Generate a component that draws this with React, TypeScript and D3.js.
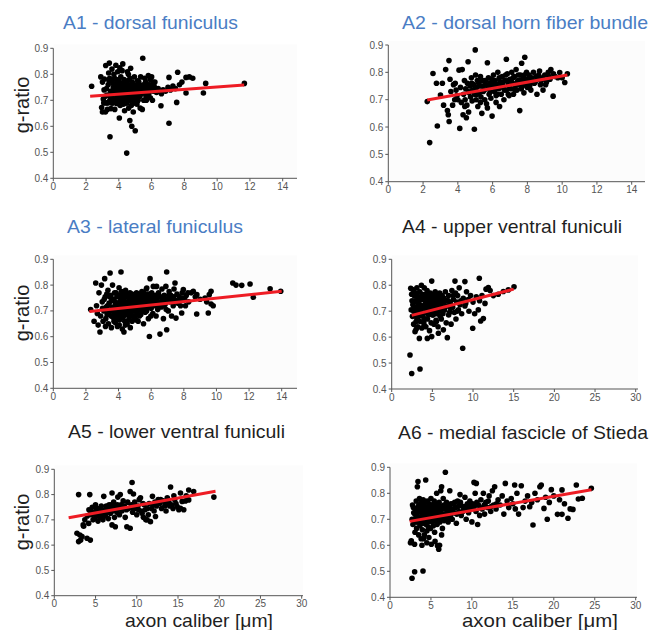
import React from 'react';
import * as d3 from 'd3';

// tick labels
const yTicks = [0.4, 0.5, 0.6, 0.7, 0.8, 0.9];
const xTicksShort = [0, 2, 4, 6, 8, 10, 12, 14];
const xTicksLong = [0, 5, 10, 15, 20, 25, 30];

// axon caliber [µm], g-ratio
const a1Points = [
  [2.34,0.754],[2.9,0.79],[2.95,0.672],[3.0,0.655],[3.05,0.705],[3.1,0.74],[3.12,0.782],[3.2,0.834],[3.22,0.69],[3.28,0.72],
  [3.3,0.665],[3.35,0.76],[3.38,0.805],[3.42,0.843],[3.46,0.56],[3.45,0.7],[3.5,0.735],[3.52,0.668],[3.55,0.775],[3.6,0.71],
  [3.62,0.69],[3.66,0.748],[3.7,0.8],[3.72,0.725],[3.75,0.665],[3.78,0.76],[3.8,0.705],[3.83,0.74],[3.86,0.688],[3.88,0.775],
  [3.9,0.72],[3.93,0.81],[3.95,0.755],[3.97,0.695],[4.0,0.735],[4.02,0.77],[4.03,0.632],[4.05,0.71],[4.08,0.68],[4.1,0.75],
  [4.12,0.79],[4.15,0.725],[4.18,0.7],[4.2,0.814],[4.22,0.765],[4.24,0.84],[4.25,0.74],[4.28,0.685],[4.3,0.72],[4.32,0.78],
  [4.35,0.66],[4.38,0.755],[4.4,0.705],[4.42,0.73],[4.45,0.77],[4.48,0.497],[4.5,0.69],[4.52,0.745],[4.55,0.715],[4.58,0.8],
  [4.6,0.67],[4.62,0.76],[4.65,0.735],[4.67,0.622],[4.7,0.7],[4.72,0.823],[4.74,0.75],[4.76,0.68],[4.79,0.6],[4.8,0.725],
  [4.82,0.77],[4.85,0.71],[4.88,0.655],[4.9,0.745],[4.92,0.69],[4.95,0.79],[4.98,0.73],[5.0,0.583],[5.02,0.705],[5.05,0.76],
  [5.08,0.72],[5.1,0.685],[5.13,0.745],[5.15,0.775],[5.18,0.7],[5.2,0.735],[5.25,0.755],[5.28,0.715],[5.3,0.67],[5.33,0.79],
  [5.36,0.74],[5.4,0.725],[5.43,0.665],[5.46,0.862],[5.5,0.76],[5.52,0.7],[5.55,0.745],[5.6,0.73],[5.63,0.77],[5.66,0.715],
  [5.7,0.755],[5.74,0.74],[5.8,0.795],[5.83,0.725],[5.87,0.76],[5.9,0.78],[5.95,0.745],[6.0,0.79],[6.05,0.7],[6.1,0.735],
  [6.15,0.755],[6.2,0.77],[6.3,0.73],[6.4,0.745],[6.57,0.679],[6.6,0.725],[6.7,0.74],[6.85,0.735],[7.0,0.75],[7.06,0.788],
  [7.06,0.612],[7.15,0.74],[7.3,0.755],[7.45,0.745],[7.53,0.692],[7.59,0.808],[7.7,0.76],[7.85,0.77],[8.1,0.788],[8.1,0.728],
  [8.3,0.79],[8.51,0.785],[9.16,0.728],[9.3,0.765],[11.66,0.765],
  [3.15,0.715],[3.25,0.745],[3.33,0.69],[3.4,0.775],[3.48,0.715],[3.57,0.69],[3.64,0.765],[3.69,0.73],[3.74,0.785],[3.79,0.695],
  [3.84,0.755],[3.91,0.705],[3.98,0.78],[4.04,0.745],[4.09,0.72],[4.13,0.765],[4.19,0.745],[4.26,0.705],[4.31,0.755],[4.36,0.735],
  [4.43,0.69],[4.47,0.75],[4.53,0.775],[4.57,0.725],[4.63,0.71],[4.68,0.785],[4.73,0.735],[4.84,0.755],[4.93,0.715],[5.04,0.74],
  [5.12,0.695],[5.22,0.77],[5.32,0.73],[5.45,0.745],[5.58,0.785],[5.68,0.7],[5.78,0.76],[5.92,0.71],[6.08,0.77],[6.25,0.745],
  [3.58,0.82],[3.82,0.835],[4.06,0.825],[4.52,0.81],[3.0,0.77],[3.08,0.69],[3.18,0.655],[3.44,0.785],
];

const a2Points = [
  [2.24,0.693],[2.38,0.543],[2.57,0.796],[2.77,0.76],[2.82,0.604],[3.0,0.717],[3.11,0.76],[3.18,0.68],[3.3,0.81],[3.4,0.66],
  [3.45,0.645],[3.49,0.843],[3.5,0.62],[3.55,0.775],[3.6,0.73],[3.7,0.68],[3.75,0.755],[3.82,0.7],[3.9,0.735],[3.95,0.715],
  [4.07,0.808],[4.11,0.595],[4.15,0.745],[4.2,0.69],[4.25,0.81],[4.3,0.645],[4.33,0.72],[4.38,0.77],[4.42,0.7],[4.45,0.74],
  [4.49,0.634],[4.52,0.68],[4.55,0.76],[4.59,0.839],[4.62,0.655],[4.65,0.725],[4.7,0.75],[4.73,0.71],[4.78,0.78],[4.82,0.695],
  [4.85,0.735],[4.9,0.755],[4.95,0.592],[4.97,0.72],[5.0,0.882],[5.02,0.79],[5.05,0.7],[5.08,0.745],[5.12,0.77],[5.15,0.675],
  [5.2,0.76],[5.25,0.725],[5.3,0.785],[5.33,0.71],[5.38,0.65],[5.42,0.75],[5.46,0.73],[5.5,0.77],[5.55,0.7],[5.6,0.755],
  [5.65,0.685],[5.7,0.835],[5.72,0.74],[5.76,0.78],[5.8,0.72],[5.85,0.76],[5.9,0.705],[5.97,0.64],[6.0,0.75],[6.05,0.79],
  [6.1,0.73],[6.15,0.77],[6.2,0.69],[6.25,0.755],[6.3,0.8],[6.35,0.74],[6.4,0.675],[6.45,0.765],[6.5,0.72],[6.55,0.785],
  [6.6,0.745],[6.65,0.7],[6.7,0.77],[6.79,0.848],[6.8,0.735],[6.85,0.795],[6.9,0.755],[6.95,0.715],[7.0,0.775],[7.05,0.74],
  [7.1,0.8],[7.15,0.76],[7.2,0.72],[7.25,0.785],[7.3,0.75],[7.35,0.81],[7.4,0.735],[7.45,0.77],[7.5,0.755],[7.56,0.66],
  [7.6,0.79],[7.65,0.74],[7.67,0.833],[7.7,0.765],[7.75,0.78],[7.8,0.725],[7.85,0.855],[7.9,0.76],[7.95,0.8],[8.0,0.745],
  [8.05,0.775],[8.1,0.79],[8.15,0.755],[8.2,0.735],[8.3,0.77],[8.35,0.8],[8.4,0.76],[8.5,0.785],[8.55,0.72],[8.6,0.775],
  [8.7,0.805],[8.75,0.755],[8.85,0.78],[8.9,0.735],[9.0,0.79],[9.1,0.765],[9.2,0.8],[9.3,0.775],[9.35,0.81],[9.48,0.713],
  [9.6,0.785],[9.86,0.799],[10.0,0.78],[10.15,0.763],[10.3,0.795],
  [4.6,0.73],[4.8,0.76],[5.0,0.74],[5.1,0.72],[5.28,0.75],[5.4,0.77],[5.52,0.735],[5.62,0.77],[5.78,0.75],[5.88,0.73],
  [5.95,0.775],[6.08,0.76],[6.18,0.74],[6.28,0.72],[6.38,0.78],[6.48,0.75],[6.58,0.76],[6.68,0.735],[6.75,0.79],[6.88,0.77],
  [6.98,0.745],[7.08,0.765],[7.18,0.78],[7.28,0.735],[7.38,0.76],[7.48,0.79],[7.58,0.77],[7.72,0.75],[7.82,0.79],[7.92,0.775],
  [8.02,0.76],[8.12,0.745],[8.25,0.78],[8.45,0.765],[8.65,0.79],[8.8,0.77],[9.05,0.755],[9.25,0.785],[9.5,0.795],[9.75,0.78],
  [5.3,0.69],[5.7,0.67],[6.2,0.715],[6.9,0.72],[4.4,0.675],[4.0,0.7],[3.85,0.76],
];

const a3Points = [
  [2.29,0.705],[2.5,0.66],[2.6,0.808],[2.65,0.72],[2.7,0.69],[2.75,0.645],[2.8,0.77],[2.86,0.618],[2.9,0.68],[2.95,0.8],
  [3.0,0.735],[3.05,0.66],[3.1,0.7],[3.15,0.825],[3.18,0.755],[3.2,0.64],[3.25,0.715],[3.3,0.685],[3.35,0.78],[3.38,0.65],
  [3.42,0.73],[3.48,0.847],[3.5,0.7],[3.53,0.76],[3.56,0.635],[3.6,0.715],[3.63,0.8],[3.66,0.675],[3.7,0.745],[3.73,0.69],
  [3.76,0.77],[3.8,0.655],[3.83,0.725],[3.86,0.7],[3.9,0.755],[3.93,0.64],[3.96,0.685],[4.0,0.73],[4.03,0.79],[4.06,0.665],
  [4.1,0.71],[4.12,0.75],[4.15,0.851],[4.17,0.68],[4.2,0.72],[4.23,0.63],[4.26,0.765],[4.3,0.695],[4.33,0.618],[4.35,0.74],
  [4.38,0.66],[4.4,0.71],[4.43,0.78],[4.46,0.685],[4.5,0.725],[4.53,0.65],[4.56,0.755],[4.6,0.7],[4.63,0.735],[4.66,0.675],
  [4.7,0.77],[4.73,0.715],[4.76,0.69],[4.8,0.745],[4.83,0.66],[4.86,0.725],[4.9,0.76],[4.93,0.7],[4.96,0.735],[5.0,0.68],
  [5.03,0.75],[5.06,0.715],[5.1,0.77],[5.13,0.695],[5.16,0.74],[5.2,0.66],[5.23,0.725],[5.26,0.76],[5.3,0.705],[5.33,0.745],
  [5.36,0.685],[5.4,0.73],[5.43,0.775],[5.46,0.71],[5.5,0.755],[5.53,0.65],[5.56,0.72],[5.6,0.765],[5.63,0.695],[5.66,0.74],
  [5.7,0.785],[5.73,0.789],[5.76,0.715],[5.8,0.755],[5.83,0.67],[5.86,0.73],[5.89,0.601],[5.93,0.825],[5.95,0.745],[6.0,0.71],
  [6.03,0.77],[6.06,0.735],[6.1,0.69],[6.13,0.795],[6.16,0.75],[6.2,0.72],[6.25,0.76],[6.3,0.68],[6.33,0.795],[6.36,0.74],
  [6.4,0.705],[6.45,0.77],[6.5,0.73],[6.54,0.61],[6.58,0.755],[6.62,0.715],[6.66,0.785],[6.7,0.74],[6.75,0.67],[6.8,0.76],
  [6.85,0.725],[6.9,0.795],[6.95,0.851],[6.95,0.627],[7.0,0.745],[7.05,0.7],[7.1,0.775],[7.15,0.735],[7.2,0.76],[7.25,0.68],
  [7.3,0.75],[7.35,0.72],[7.4,0.785],[7.46,0.808],[7.5,0.74],[7.52,0.672],[7.58,0.765],[7.65,0.73],[7.72,0.755],[7.8,0.72],
  [7.87,0.692],[7.9,0.77],[7.97,0.783],[8.05,0.745],[8.15,0.76],[8.3,0.735],[8.45,0.77],[8.58,0.776],[8.7,0.755],[8.79,0.688],
  [8.8,0.763],[9.0,0.745],[9.3,0.75],[9.4,0.735],[9.5,0.692],[9.56,0.763],[9.67,0.727],[9.67,0.776],[9.8,0.72],[11.0,0.808],
  [11.2,0.8],[11.55,0.799],[12.06,0.804],[12.26,0.753],[13.29,0.786],[13.94,0.776],
  [3.02,0.71],[3.12,0.745],[3.22,0.67],[3.28,0.765],[3.32,0.72],[3.4,0.695],[3.45,0.755],[3.55,0.68],[3.58,0.74],[3.68,0.705],
  [3.72,0.66],[3.78,0.735],[3.85,0.77],[3.88,0.675],[3.95,0.715],[3.99,0.76],[4.04,0.645],[4.08,0.735],[4.14,0.695],[4.19,0.775],
  [4.22,0.705],[4.28,0.675],[4.32,0.73],[4.37,0.755],[4.42,0.645],[4.45,0.715],[4.48,0.765],[4.52,0.69],[4.58,0.735],[4.62,0.665],
  [4.65,0.71],[4.68,0.75],[4.72,0.635],[4.75,0.73],[4.78,0.7],[4.82,0.765],[4.85,0.68],[4.88,0.745],[4.92,0.715],[4.95,0.675],
  [4.98,0.755],[5.02,0.7],[5.05,0.73],[5.08,0.665],[5.12,0.75],[5.15,0.71],[5.18,0.685],[5.22,0.765],[5.25,0.735],[5.28,0.68],
  [5.32,0.72],[5.38,0.755],[5.42,0.7],[5.48,0.74],[5.52,0.77],[5.58,0.705],[5.62,0.73],[5.68,0.755],[5.72,0.7],[5.78,0.735],
  [5.85,0.765],[5.9,0.72],[5.98,0.68],[6.08,0.755],[6.18,0.735],[6.28,0.745],[6.38,0.72],[6.48,0.755],[6.6,0.735],[6.72,0.72],
  [6.82,0.745],[6.92,0.705],[7.08,0.76],[7.22,0.74],[7.38,0.755],[7.55,0.735],[7.75,0.74],[7.95,0.75],[8.1,0.72],[8.25,0.77],
];

const a4Points = [
  [2.25,0.531],[2.46,0.46],[3.48,0.477],[2.34,0.788],[2.4,0.705],[2.5,0.74],[2.55,0.68],[2.66,0.782],[2.7,0.65],[2.75,0.76],
  [2.8,0.715],[2.87,0.621],[2.9,0.695],[2.95,0.77],[3.0,0.66],[3.05,0.735],[3.1,0.79],[3.15,0.7],[3.2,0.64],[3.25,0.755],
  [3.3,0.72],[3.35,0.68],[3.4,0.595],[3.45,0.775],[3.48,0.724],[3.5,0.66],[3.55,0.745],[3.6,0.7],[3.65,0.8],[3.7,0.635],
  [3.75,0.765],[3.8,0.715],[3.85,0.68],[3.9,0.75],[3.95,0.655],[4.0,0.79],[4.05,0.725],[4.1,0.695],[4.15,0.765],[4.2,0.64],
  [4.25,0.735],[4.3,0.705],[4.35,0.78],[4.38,0.595],[4.4,0.67],[4.45,0.745],[4.5,0.715],[4.55,0.76],[4.6,0.69],[4.65,0.625],
  [4.7,0.73],[4.75,0.77],[4.8,0.7],[4.85,0.655],[4.92,0.816],[4.92,0.602],[4.95,0.74],[5.0,0.71],[5.05,0.76],[5.1,0.685],
  [5.15,0.725],[5.2,0.65],[5.25,0.75],[5.3,0.7],[5.35,0.775],[5.4,0.72],[5.45,0.665],[5.5,0.745],[5.55,0.69],[5.6,0.76],
  [5.65,0.715],[5.7,0.64],[5.74,0.615],[5.8,0.735],[5.85,0.7],[5.9,0.77],[5.95,0.68],[6.0,0.745],[6.1,0.715],[6.2,0.76],
  [6.3,0.69],[6.35,0.628],[6.4,0.735],[6.5,0.705],[6.6,0.775],[6.7,0.655],[6.8,0.74],[6.84,0.598],[6.9,0.72],[7.0,0.76],
  [7.1,0.695],[7.2,0.73],[7.3,0.65],[7.4,0.78],[7.5,0.715],[7.6,0.745],[7.7,0.695],[7.78,0.816],[7.85,0.77],[7.9,0.67],
  [8.0,0.735],[8.1,0.76],[8.2,0.705],[8.3,0.79],[8.4,0.725],[8.6,0.69],[8.73,0.557],[8.8,0.75],[9.0,0.814],[9.0,0.72],
  [9.2,0.775],[9.4,0.745],[9.5,0.7],[9.7,0.76],[9.96,0.634],[10.0,0.735],[10.2,0.69],[10.4,0.755],[10.65,0.705],[10.77,0.827],
  [10.8,0.74],[10.94,0.662],[11.1,0.76],[11.27,0.672],[11.47,0.73],[11.6,0.785],[11.88,0.791],[12.1,0.78],[12.5,0.76],[13.1,0.765],
  [13.73,0.776],[14.34,0.782],[15.04,0.794],
  [2.6,0.725],[2.72,0.7],[2.85,0.74],[2.98,0.715],[3.08,0.675],[3.18,0.755],[3.28,0.695],[3.38,0.74],[3.52,0.715],[3.62,0.755],
  [3.72,0.685],[3.82,0.745],[3.92,0.72],[4.02,0.67],[4.12,0.74],[4.22,0.71],[4.32,0.755],[4.42,0.72],[4.52,0.685],[4.62,0.745],
  [4.72,0.71],[4.82,0.76],[4.9,0.725],[5.02,0.685],[5.12,0.745],[5.22,0.715],[5.32,0.735],[5.42,0.695],[5.52,0.725],[5.62,0.735],
  [5.72,0.705],[5.82,0.755],[6.05,0.73],[6.25,0.7],[6.45,0.75],[6.65,0.72],[6.95,0.74],[7.25,0.71],[7.55,0.76],[8.05,0.7],
  [8.5,0.74],[9.1,0.73],[2.45,0.765],[3.0,0.63],[4.0,0.645],[5.5,0.66],[6.1,0.67],[7.0,0.685],
];

const a5Points = [
  [2.75,0.647],[2.95,0.614],[2.95,0.8],[3.1,0.64],[3.2,0.62],[3.36,0.634],[3.5,0.68],[3.56,0.675],[3.7,0.7],[3.97,0.627],
  [4.0,0.715],[4.17,0.686],[4.3,0.8],[4.37,0.62],[4.4,0.735],[4.5,0.72],[4.6,0.75],[4.7,0.7],[4.8,0.725],[4.9,0.705],
  [5.0,0.76],[5.1,0.74],[5.2,0.715],[5.3,0.695],[5.4,0.73],[5.5,0.745],[5.6,0.71],[5.7,0.755],[5.8,0.725],[5.9,0.7],
  [6.0,0.793],[6.1,0.74],[6.2,0.715],[6.3,0.755],[6.45,0.73],[6.55,0.705],[6.7,0.745],[6.8,0.726],[6.9,0.76],[7.0,0.806],
  [7.0,0.68],[7.1,0.735],[7.2,0.77],[7.3,0.71],[7.4,0.673],[7.5,0.75],[7.6,0.73],[7.7,0.79],[7.8,0.745],[7.9,0.72],
  [8.0,0.8],[8.1,0.76],[8.2,0.735],[8.35,0.775],[8.5,0.755],[8.6,0.71],[8.8,0.673],[8.9,0.77],[9.0,0.745],[9.2,0.812],
  [9.2,0.667],[9.35,0.76],[9.43,0.848],[9.5,0.73],[9.6,0.802],[9.75,0.77],[9.9,0.745],[10.0,0.72],[10.15,0.755],[10.3,0.78],
  [10.45,0.787],[10.5,0.735],[10.65,0.726],[10.8,0.71],[10.9,0.76],[11.0,0.74],[11.1,0.7],[11.25,0.7],[11.4,0.72],[11.5,0.765],
  [11.66,0.693],[11.8,0.745],[11.9,0.793],[12.0,0.76],[12.1,0.735],[12.27,0.713],[12.4,0.755],[12.6,0.78],[12.8,0.765],[13.0,0.745],
  [13.2,0.775],[13.4,0.755],[13.55,0.735],[13.7,0.787],[13.9,0.77],[14.1,0.83],[14.2,0.76],[14.4,0.745],[14.6,0.78],[14.75,0.765],
  [14.9,0.753],[15.1,0.74],[15.3,0.806],[15.3,0.746],[15.5,0.773],[15.7,0.74],[16.0,0.795],[16.3,0.818],[16.3,0.779],[16.9,0.812],
  [19.35,0.79],
  [4.2,0.74],[4.65,0.73],[5.25,0.745],[5.75,0.735],[6.25,0.73],[6.65,0.76],[7.15,0.75],[7.65,0.76],[8.25,0.755],[8.75,0.74],
  [9.6,0.745],[10.2,0.74],[10.75,0.765],[11.3,0.745],[12.2,0.77],[12.9,0.78],[13.5,0.765],[14.0,0.755],[14.5,0.795],[15.9,0.775],
];

const a6Points = [
  [2.5,0.61],[2.6,0.617],[2.69,0.473],[2.7,0.7],[2.75,0.755],[2.8,0.68],[2.9,0.725],[3.0,0.604],[3.01,0.498],[3.05,0.65],
  [3.1,0.74],[3.15,0.705],[3.2,0.77],[3.25,0.665],[3.3,0.715],[3.34,0.825],[3.38,0.69],[3.42,0.845],[3.45,0.75],[3.5,0.64],
  [3.55,0.73],[3.6,0.78],[3.65,0.675],[3.7,0.71],[3.75,0.76],[3.8,0.625],[3.85,0.695],[3.9,0.74],[3.95,0.66],[4.03,0.501],
  [4.0,0.72],[4.05,0.775],[4.1,0.685],[4.15,0.75],[4.2,0.64],[4.25,0.705],[4.3,0.765],[4.36,0.851],[4.4,0.68],[4.45,0.73],
  [4.5,0.655],[4.55,0.77],[4.6,0.715],[4.65,0.69],[4.7,0.745],[4.75,0.63],[4.8,0.76],[4.85,0.7],[4.9,0.725],[4.95,0.665],
  [5.05,0.604],[5.0,0.78],[5.1,0.735],[5.15,0.69],[5.2,0.755],[5.25,0.71],[5.3,0.675],[5.35,0.74],[5.4,0.77],[5.45,0.65],
  [5.5,0.72],[5.55,0.76],[5.6,0.695],[5.65,0.73],[5.7,0.8],[5.75,0.68],[5.8,0.598],[5.85,0.745],[5.9,0.71],[5.95,0.585],
  [6.0,0.765],[6.05,0.6],[6.1,0.69],[6.15,0.735],[6.2,0.81],[6.25,0.705],[6.3,0.825],[6.35,0.75],[6.4,0.665],[6.45,0.72],
  [6.5,0.78],[6.6,0.695],[6.7,0.74],[6.76,0.881],[6.8,0.71],[6.9,0.765],[7.0,0.725],[7.1,0.69],[7.2,0.75],[7.3,0.81],
  [7.4,0.715],[7.5,0.74],[7.6,0.7],[7.7,0.76],[7.85,0.725],[8.0,0.745],[8.1,0.685],[8.25,0.77],[8.4,0.73],[8.55,0.795],
  [8.7,0.715],[8.85,0.75],[9.0,0.735],[9.15,0.785],[9.3,0.7],[9.45,0.76],[9.6,0.725],[9.75,0.77],[9.9,0.745],[10.0,0.69],
  [10.1,0.76],[10.26,0.842],[10.4,0.8],[10.5,0.73],[10.54,0.838],[10.7,0.68],[10.8,0.755],[10.95,0.715],[11.1,0.775],[11.25,0.74],
  [11.4,0.8],[11.55,0.72],[11.7,0.765],[11.9,0.745],[12.1,0.79],[12.3,0.73],[12.5,0.81],[12.65,0.755],[12.78,0.825],[12.95,0.74],
  [13.2,0.775],[13.45,0.755],[13.7,0.79],[13.9,0.72],[14.08,0.838],[14.3,0.77],[14.5,0.745],[14.8,0.78],[15.0,0.76],[15.22,0.832],
  [15.3,0.74],[15.5,0.8],[15.7,0.72],[16.03,0.829],[16.25,0.745],[16.5,0.77],[16.8,0.79],[17.06,0.748],[17.3,0.765],[17.46,0.678],
  [17.7,0.8],[18.0,0.775],[18.3,0.825],[18.47,0.832],[18.8,0.742],[19.0,0.785],[19.2,0.7],[19.45,0.765],[19.7,0.814],[20.0,0.79],
  [20.45,0.719],[20.7,0.775],[21.0,0.813],[21.0,0.719],[21.3,0.76],[21.73,0.704],[22.0,0.74],[22.34,0.738],[22.75,0.832],[23.0,0.778],
  [23.48,0.781],[24.58,0.819],
  [2.85,0.745],[3.05,0.72],[3.22,0.69],[3.35,0.735],[3.48,0.705],[3.58,0.755],[3.68,0.73],[3.78,0.69],[3.88,0.765],[3.98,0.745],
  [4.08,0.71],[4.18,0.73],[4.28,0.685],[4.38,0.745],[4.48,0.7],[4.58,0.74],[4.68,0.67],[4.78,0.72],[4.88,0.75],[4.98,0.695],
  [5.08,0.715],[5.18,0.73],[5.28,0.745],[5.38,0.695],[5.48,0.735],[5.58,0.715],[5.68,0.75],[5.78,0.72],[5.88,0.7],[5.98,0.745],
  [6.12,0.72],[6.28,0.74],[6.42,0.7],[6.58,0.755],[6.72,0.72],[6.88,0.745],[7.05,0.7],[7.25,0.735],[7.45,0.76],[7.65,0.73],
  [7.9,0.765],[8.15,0.72],[8.35,0.75],[8.6,0.765],[8.9,0.73],[9.2,0.75],[9.55,0.74],[9.85,0.76],[10.3,0.75],[10.6,0.765],
  [11.0,0.745],[11.5,0.755],[12.0,0.77],[12.4,0.75],[13.0,0.76],[3.9,0.6],[4.1,0.625],[4.5,0.61],[5.5,0.615],[6.3,0.64],
];

// regression line end points [x, y]
const a1Fit = [[2.25, 0.716], [11.65, 0.759]];
const a2Fit = [[2.24, 0.699], [10.3, 0.79]];
const a3Fit = [[2.21, 0.698], [14.0, 0.776]];
const a4Fit = [[2.46, 0.684], [15.0, 0.785]];
const a5Fit = [[1.74, 0.708], [19.55, 0.813]];
const a6Fit = [[2.4, 0.692], [24.6, 0.814]];

const blue = '#4a7dc4';
const dark = '#1f1f1f';

const panels = [
  { title: 'A1 - dorsal funiculus', color: blue, titleX: 63, titleY: 29, titleW: 175,
    points: a1Points, fit: a1Fit, xTicks: xTicksShort, x0: 53.3, x1: 282.7, axisEnd: 297, top: 48.3, bottom: 178.3, yLabelY: 105 },
  { title: 'A2 - dorsal horn fiber bundle', color: blue, titleX: 402, titleY: 29, titleW: 246,
    points: a2Points, fit: a2Fit, xTicks: xTicksShort, x0: 388.3, x1: 631.7, axisEnd: 645, top: 45, bottom: 181.7 },
  { title: 'A3 - lateral funiculus', color: blue, titleX: 67, titleY: 233, titleW: 176,
    points: a3Points, fit: a3Fit, xTicks: xTicksShort, x0: 53.3, x1: 281.7, axisEnd: 297, top: 259.3, bottom: 388.3, yLabelY: 313 },
  { title: 'A4 - upper ventral funiculi', color: dark, titleX: 402, titleY: 233, titleW: 220,
    points: a4Points, fit: a4Fit, xTicks: xTicksLong, x0: 391.7, x1: 635.7, axisEnd: 638, top: 259.3, bottom: 389 },
  { title: 'A5 - lower ventral funiculi', color: dark, titleX: 68, titleY: 438, titleW: 217,
    points: a5Points, fit: a5Fit, xTicks: xTicksLong, x0: 54.3, x1: 301.7, axisEnd: 303, top: 469.3, bottom: 595.7, yLabelY: 522, xLabelX: 125, xLabelW: 148 },
  { title: 'A6 - medial fascicle of Stieda', color: dark, titleX: 398, titleY: 439, titleW: 250,
    points: a6Points, fit: a6Fit, xTicks: xTicksLong, x0: 390, x1: 635.7, axisEnd: 637, top: 467.3, bottom: 597.3, xLabelX: 462, xLabelW: 156 },
];

const font = '"Liberation Sans", Arial, sans-serif';

function Panel({ p }) {
  const xMax = p.xTicks[p.xTicks.length - 1];
  const x = d3.scaleLinear().domain([0, xMax]).range([p.x0, p.x1]);
  const y = d3.scaleLinear().domain([0.4, 0.9]).range([p.bottom, p.top]);
  const line = d3.line().x(d => x(d[0])).y(d => y(d[1]));

  return (
    <g>
      <rect x={p.x0} y={p.top - 4} width={p.axisEnd - p.x0} height={p.bottom - p.top + 4} fill="#fcfcfc" />
      <text x={p.titleX} y={p.titleY} fill={p.color} fontSize={18.5} fontFamily={font}
        textLength={p.titleW} lengthAdjust="spacingAndGlyphs">{p.title}</text>

      {/* y axis */}
      <line x1={p.x0} x2={p.x0} y1={y(0.4)} y2={y(0.9)} stroke="#555" strokeWidth={1} />
      {yTicks.map(t => (
        <g key={t}>
          <line x1={p.x0 - 3} x2={p.x0} y1={y(t)} y2={y(t)} stroke="#555" />
          <text x={p.x0 - 5} y={y(t)} dy="0.35em" textAnchor="end" fontSize={10} fill="#555" fontFamily={font}>
            {d3.format('.1f')(t)}
          </text>
        </g>
      ))}

      {/* x axis */}
      <line x1={p.x0} x2={p.axisEnd} y1={p.bottom} y2={p.bottom} stroke="#555" strokeWidth={1} />
      {p.xTicks.map(t => (
        <g key={t}>
          <line x1={x(t)} x2={x(t)} y1={p.bottom} y2={p.bottom + 3} stroke="#555" />
          <text x={x(t)} y={p.bottom + 11.5} textAnchor="middle" fontSize={10} fill="#555" fontFamily={font}>{t}</text>
        </g>
      ))}

      {p.points.map((d, i) => (
        <circle key={i} cx={x(d[0])} cy={y(d[1])} r={2.8} fill="#000" />
      ))}
      <path d={line(p.fit)} stroke="#ee1c24" strokeWidth={3} fill="none" />

      {p.yLabelY && (
        <text transform={`translate(29,${p.yLabelY}) rotate(-90)`} textAnchor="middle" fontSize={20}
          fill={dark} fontFamily={font}>g-ratio</text>
      )}
      {p.xLabelX && (
        <text x={p.xLabelX} y={627} fontSize={19} fill={dark} fontFamily={font}
          textLength={p.xLabelW} lengthAdjust="spacingAndGlyphs">axon caliber [μm]</text>
      )}
    </g>
  );
}

export default function App() {
  return (
    <svg width={650} height={630} style={{ position: 'absolute', left: 0, top: 0, background: '#fff' }}>
      <rect width={650} height={630} fill="#fff" />
      {panels.map(p => <Panel key={p.title} p={p} />)}
    </svg>
  );
}
